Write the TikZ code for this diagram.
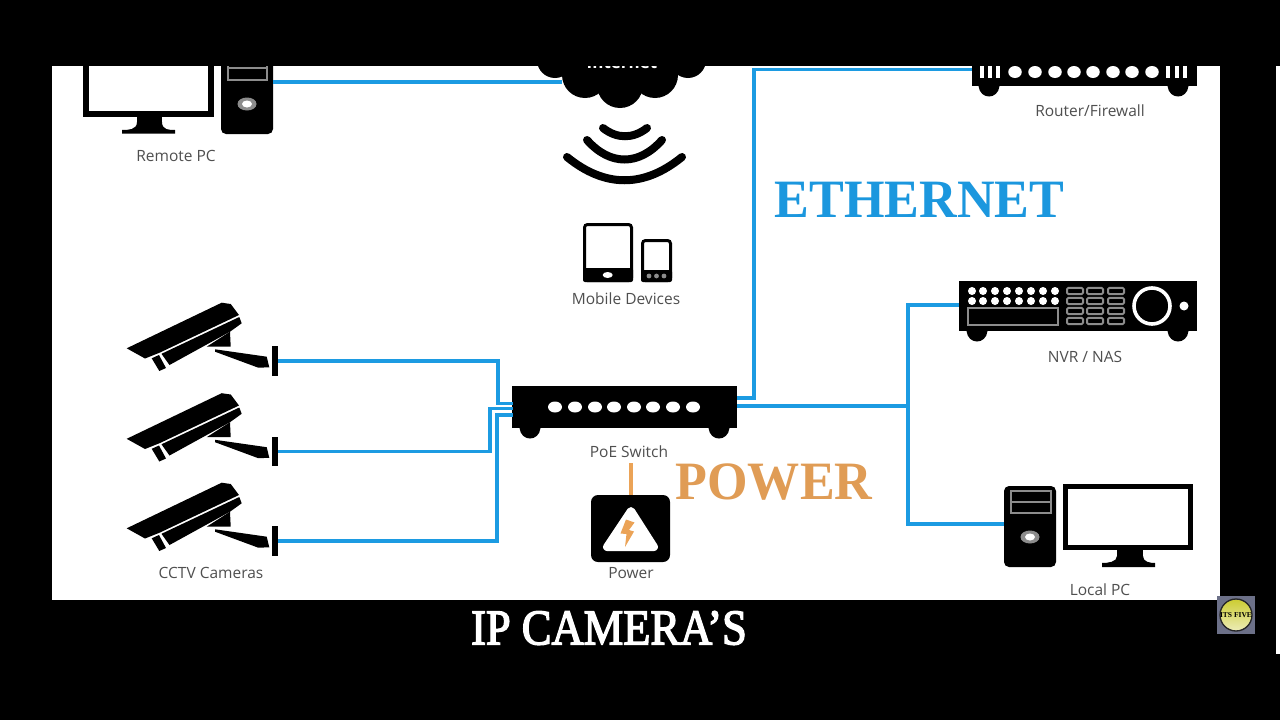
\documentclass[tikz,border=0pt]{standalone}
\usepackage{fontspec}
\usetikzlibrary{shapes.geometric}
\setmainfont{Liberation Serif}
\newfontfamily\labelfont{Open Sans}
\newfontfamily\capfont[FakeBold=3]{Liberation Serif}
\definecolor{wire}{HTML}{1C9BE2}
\definecolor{amberline}{HTML}{EBA357}
\definecolor{amberword}{HTML}{E09C55}
\definecolor{bluword}{HTML}{1B97DE}
\definecolor{labelgray}{HTML}{4F4F4F}
\definecolor{drivegray}{HTML}{8C8C8C}
\definecolor{logoback}{HTML}{6C7088}
\tikzset{
  x=1pt,y=-1pt,
  wireline/.style={draw=wire,line width=3.2pt,line join=miter},
  devlabel/.style={font=\labelfont\fontsize{15.5}{16}\selectfont,text=labelgray,inner sep=0pt},
  bigword/.style={font=\fontsize{54}{56}\selectfont\bfseries,inner sep=0pt,xscale=.965,transform shape},
  blackbox/.style={fill=black,draw=none,inner sep=0pt},
  whitedot/.style={fill=white,draw=none,inner sep=0pt,ellipse},
  towerbtn/.pic={
    \fill[drivegray] (0,0) ellipse [x radius=9.5,y radius=6.5];
    \fill[white] (0,0) ellipse [x radius=5,y radius=3.5];
  },
  keypad/.pic={\draw[drivegray,line width=2pt,fill=black,rounded corners=1.5pt] (-8,-3.2) rectangle (8,3.2);},
  padfoot/.pic={\fill[black] (-10.5,0) .. controls (-9,14) and (9,14) .. (10.5,0) -- cycle;},
  ipcam/.pic={
    \fill (126.7,348.3) -- (221.7,302.7) -- (230.7,304) -- (239,315) -- (160,352.5) -- (145,358.5) -- cycle;
    \fill (161.5,353.8) -- (239.3,317) -- (241.7,323.3) -- (230,331.7) -- (169.5,365) -- cycle;
    \fill (151.7,358.3) -- (159,355) -- (166,368) -- (159.3,371) -- cycle;
    \fill (230,331.7) -- (230.7,346.7) -- (206.7,346.7) -- cycle;
    \fill (215,349.3) -- (266.7,356.7) -- (269.3,367.3) -- (258.3,367.7) -- (215,351.7) -- cycle;
    \node[blackbox,minimum width=6pt,minimum height=29.5pt] (-plate) at (274.7,361) {};
  },
}
\begin{document}
\begin{tikzpicture}
\useasboundingbox (0,0) rectangle (1280,720);
\fill[black] (0,0) rectangle (1280,720);
\fill[white] (52,66) rectangle (1220,600);
\fill[white] (1276,66) rectangle (1280,654);

% cloud
\fill (555,60) circle [radius=18];
\fill (585,75) circle [radius=23];
\fill (620,85) circle [radius=23];
\fill (655,75) circle [radius=23];
\fill (688,60) circle [radius=18];
\fill (570,40) rectangle (672,85);
\node[font=\labelfont\bfseries\fontsize{17}{18}\selectfont,text=white,inner sep=0pt,anchor=base] (inet) at (622,68) {Internet};
\coordinate (cloudport) at (562,82);

% wifi
\draw[line width=8pt,line cap=round] (603,128) .. controls (617,139) and (633,139) .. (647,128);
\draw[line width=8pt,line cap=round] (587,140) .. controls (610,166) and (639,166) .. (662,140);
\draw[line width=8pt,line cap=round] (567,157) .. controls (605,188) and (644,188) .. (682,157);

% mobile devices
\draw[line width=3pt,rounded corners=3pt,fill=white] (584.5,224.5) rectangle (631.5,280.5);
\fill[rounded corners=2pt] (583,268) rectangle (633,282);
\fill[white] (607.7,275) ellipse [x radius=5,y radius=3];
\draw[line width=3pt,rounded corners=3pt,fill=white] (642.5,240.5) rectangle (670.5,280.5);
\fill[rounded corners=2pt] (641,270) rectangle (672,282);
\foreach \mx in {649,656.5,664} \fill[drivegray] (\mx,276) circle [radius=2.4];
\node[devlabel] (lblmobile) at (626,299) {Mobile Devices};

% remote pc
\draw[line width=6pt,fill=white] (86,40) rectangle (211,114);
\fill (137,117) rectangle (162,128);
\fill (137,122) .. controls (137,130) and (128,130) .. (122,130) -- (122,133.5) -- (175,133.5) -- (175,130) .. controls (169,130) and (162,130) .. (162,122) -- cycle;
\node[blackbox,rounded corners=5pt,minimum width=52pt,minimum height=90pt] (rtower) at (247,89) {};
\draw[drivegray,line width=2.4pt] (228,50) rectangle (267,80) (228,68) -- (267,68);
\pic at (247,104) {towerbtn};
\node[devlabel] (lblremote) at (176,156) {Remote PC};

% router
\node[blackbox,minimum width=225pt,minimum height=46pt] (router) at (1084.5,63) {};
\foreach \rx in {982,990,998,1168,1177,1185} \fill[white] (\rx-2,60) rectangle (\rx+2,78);
\foreach \rx in {1015,1035,1055,1074,1093,1113,1132,1152} \node[whitedot,minimum width=13.5pt,minimum height=12pt] at (\rx,72) {};
\pic at (989,86) {padfoot};
\pic at (1178,86) {padfoot};
\node[devlabel] (lblrouter) at (1090,111) {Router/Firewall};

% top band covers what runs past the frame
\fill[black] (0,0) rectangle (1280,66);

% nvr
\node[blackbox,minimum width=238pt,minimum height=50pt] (nvr) at (1078,306) {};
\foreach \nx in {972,983,995,1007,1019,1031,1043,1055} {
  \fill[white] (\nx,291) circle [radius=4];
  \fill[white] (\nx,301) circle [radius=4];
}
\draw[drivegray,line width=2.2pt] (968,308) rectangle (1058,325);
\foreach \kx in {1075,1095,1116} \foreach \ky in {291,301,311,321} \pic at (\kx,\ky) {keypad};
\draw[white,line width=3.6pt] (1152,306) circle [radius=18];
\fill[white] (1184,306) circle [radius=4.5];
\pic at (977,331) {padfoot};
\pic at (1178,331) {padfoot};
\node[devlabel] (lblnvr) at (1085,357) {NVR / NAS};

% local pc
\node[blackbox,rounded corners=5pt,minimum width=52pt,minimum height=81pt] (ltower) at (1030,526.5) {};
\draw[drivegray,line width=2.4pt] (1011,491) rectangle (1051,513) (1011,502) -- (1051,502);
\pic at (1030,537) {towerbtn};
\draw[line width=5pt,fill=white] (1065.5,486) rectangle (1190.5,547.5);
\fill (1117,550) rectangle (1143,560);
\fill (1117,556) .. controls (1117,562) and (1108,563) .. (1102,563) -- (1102,567) -- (1155,567) -- (1155,563) .. controls (1150,563) and (1143,562) .. (1143,556) -- cycle;
\node[devlabel] (lbllocal) at (1100,590) {Local PC};

% cameras
\pic (cam1) at (0,0) {ipcam};
\pic (cam2) at (0,90.5) {ipcam};
\pic (cam3) at (0,180) {ipcam};
\node[devlabel] (lblcams) at (211,573) {CCTV Cameras};

% switch
\node[blackbox,minimum width=225pt,minimum height=42pt] (switch) at (624.5,407) {};
\foreach \sx in {555,575,595,614,634,653,673,693} \node[whitedot,minimum width=14pt,minimum height=11pt] at (\sx,407) {};
\pic at (530,428) {padfoot};
\pic at (719,428) {padfoot};
\node[devlabel] (lblswitch) at (629,452) {PoE Switch};

% power
\node[blackbox,rounded corners=7pt,minimum width=79pt,minimum height=67pt] (power) at (630.5,528.5) {};
\filldraw[white,line width=8pt,line join=round] (631,511) -- (654,547) -- (607,547) -- cycle;
\fill[amberline] (626,519.5) -- (620.5,533.5) -- (626.5,534) -- (625,547) -- (634,531.5) -- (629,530) -- (634.5,522.5) -- cycle;
\node[devlabel] (lblpower) at (631,573) {Power};

% connector ports
\coordinate (s1) at (513,403.5);
\coordinate (s2) at (513,408.5);
\coordinate (s3) at (513,415);
\coordinate (j1) at (498,403.5);
\coordinate (j2) at (490,408.5);
\coordinate (j3) at (497,415);
\coordinate (s4) at (737,398);
\coordinate (s5) at (737,406);
\coordinate (jr1) at (754,398);
\coordinate (jr2) at (754,69.5);
\coordinate (rport) at (972,69.5);
\coordinate (jn) at (908,406);
\coordinate (nport) at (959,305);
\coordinate (lport) at (1004,524);
\coordinate (rpcport) at (273,82);
\coordinate (swpw) at (631,463);
\coordinate (pwtop) at (631,495);

\draw[wireline] (cam1-plate.east) -| (j1) -- (s1);
\draw[wireline] (cam2-plate.east) -| (j2) -- (s2);
\draw[wireline] (cam3-plate.east) -| (j3) -- (s3);
\draw[wireline] (s4) -- (jr1) -- (jr2) -- (rport);
\draw[wireline] (s5) -- (jn);
\draw[wireline] (nport) -| (jn) |- (lport);
\draw[wireline] (rpcport) -- (cloudport);
\draw[draw=amberline,line width=3.2pt] (swpw) -- (pwtop);

% large words
\node[bigword,text=bluword] (eth) at (919.5,199.5) {ETHERNET};
\node[bigword,text=amberword] (pow) at (774,482.5) {POWER};
\node[font=\capfont\fontsize{50}{52}\selectfont,text=white,inner sep=0pt,xscale=.89,transform shape] (cap) at (609,628) {IP CAMERA’S};

% logo
\fill[logoback] (1217,596) rectangle (1255,634);
\shade[top color=yellow!60!gray,bottom color=yellow!25!white!85!gray] (1236,615) circle [radius=15.5];
\draw[black!85,line width=1.3pt] (1236,615) circle [radius=16];
\node[font=\fontsize{7.5}{8}\selectfont\bfseries,text=black,inner sep=0pt] (logo) at (1236,615) {ITS FIVE};
\end{tikzpicture}
\end{document}
